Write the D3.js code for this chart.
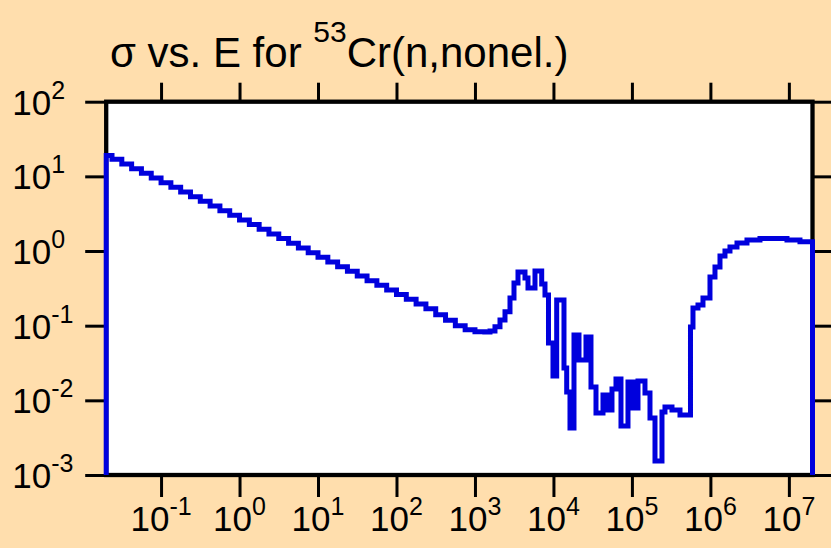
<!DOCTYPE html>
<html><head><meta charset="utf-8">
<script src="https://cdn.jsdelivr.net/npm/d3@7"></script>
<style>html,body{margin:0;padding:0;background:#FFDEAD;} svg{display:block;}</style>
</head><body>
<svg id="c" width="831" height="548"></svg>
<script>
// ---- data ----
const titleMain = "σ vs. E for ";
const titleSup = "53";
const titleRest = "Cr(n,nonel.)";
const xTickExponents = [-1, 0, 1, 2, 3, 4, 5, 6, 7];
const yTickExponents = [-3, -2, -1, 0, 1, 2];
const xDomain = [0.02, 2e7];
const yDomain = [1e-3, 1e2];
// bin left edges (eV) and cross sections (b), step histogram
const energy = [
  0.02, 0.02, 0.02371, 0.03162, 0.04217, 0.05623, 0.07499, 0.1, 0.1334, 0.1778, 0.2371,
  0.3162, 0.4217, 0.5623, 0.7499, 1, 1.334, 1.778, 2.371, 3.162, 4.217,
  5.623, 7.499, 10, 13.34, 17.78, 23.71, 31.62, 42.17, 56.23, 74.99,
  100, 133.4, 177.8, 237.1, 316.2, 421.7, 562.3, 749.9, 1000, 1334,
  1554, 1799, 2084, 2414, 2795, 3143, 3534, 4340, 4739, 5820,
  7085, 7803, 8647, 9867, 11000, 13625, 14754, 16250, 18275, 21165,
  25980, 30090, 34850, 42790, 49550, 55720, 62650, 72550, 89100, 103200,
  119500, 146700, 169900, 196800, 241600, 263800, 324000, 409800, 557500, 600000,
  694700, 804400, 987900, 1.144e6, 1.325e6, 1.534e6, 1.776e6, 2.182e6, 2.925e6, 4.283e6,
  9.459e6, 1.385e7, 2e7, 2e7
];
const sigma = [
  0.001, 19.0, 16.9, 14.65, 12.69, 10.99, 9.51, 8.24, 7.14, 6.18, 5.35,
  4.63, 4.01, 3.47, 3.01, 2.61, 2.26, 1.95, 1.69, 1.47, 1.27,
  1.10, 0.951, 0.824, 0.714, 0.618, 0.535, 0.463, 0.401, 0.347, 0.301,
  0.261, 0.226, 0.195, 0.169, 0.140, 0.118, 0.100, 0.088, 0.083, 0.082,
  0.0849, 0.097, 0.119, 0.154, 0.235, 0.373, 0.524, 0.435, 0.320, 0.541,
  0.362, 0.258, 0.0587, 0.0212, 0.221, 0.0271, 0.01295, 0.00427, 0.0751, 0.0347,
  0.0706, 0.0151, 0.00678, 0.0118, 0.00743, 0.0142, 0.0193, 0.00454, 0.0176, 0.0079,
  0.0182, 0.01256, 0.0058, 0.00154, 0.00699, 0.00815, 0.00743, 0.00637, 0.0961, 0.1727,
  0.1894, 0.235, 0.449, 0.611, 0.858, 1.0, 1.133, 1.281, 1.406, 1.472,
  1.406, 1.334, 1.334, 0.001
];

// ---- drawing ----
(function () {
const svg = d3.select("#c");
const W = 831, H = 548;
const pLeft = 106.2, pRight = 812.5, pTop = 101.7, pBottom = 475;
const bg = "#FFDEAD", lineColor = "#0000DD";
svg.append("rect").attr("width", W).attr("height", H).attr("fill", bg);

const x = d3.scaleLog().domain(xDomain).range([pLeft, pRight]);
const y = d3.scaleLog().domain(yDomain).range([pBottom, pTop]);

const font = "Liberation Sans, Arial, Helvetica, sans-serif";

// plot area
svg.append("rect").attr("x", pLeft).attr("y", pTop)
  .attr("width", pRight - pLeft).attr("height", pBottom - pTop)
  .attr("fill", "#fff");

// ticks via axes
const xTicks = xTickExponents.map(e => Math.pow(10, e));
const yTicks = yTickExponents.map(e => Math.pow(10, e));
function styleAxis(g) {
  g.select(".domain").remove();
  g.selectAll("text").remove();
  g.selectAll("line").attr("stroke", "#000").attr("stroke-width", 3);
}
svg.append("g").attr("transform", `translate(0,${pBottom})`)
  .call(d3.axisBottom(x).tickValues(xTicks).tickSize(22).tickSizeOuter(0)).call(styleAxis);
svg.append("g").attr("transform", `translate(0,${pTop})`)
  .call(d3.axisTop(x).tickValues(xTicks).tickSize(19).tickSizeOuter(0)).call(styleAxis);
svg.append("g").attr("transform", `translate(${pLeft},0)`)
  .call(d3.axisLeft(y).tickValues(yTicks).tickSize(21).tickSizeOuter(0)).call(styleAxis);
svg.append("g").attr("transform", `translate(${pRight},0)`)
  .call(d3.axisRight(y).tickValues(yTicks).tickSize(21).tickSizeOuter(0)).call(styleAxis);

// frame
svg.append("rect").attr("x", pLeft).attr("y", pTop)
  .attr("width", pRight - pLeft).attr("height", pBottom - pTop)
  .attr("fill", "none").attr("stroke", "#000").attr("stroke-width", 4.3);

// curve
const pts = energy.map((e, i) => [e, sigma[i]]);
const line = d3.line().x(d => x(d[0])).y(d => y(d[1])).curve(d3.curveStepAfter);
svg.append("path").attr("d", line(pts))
  .attr("fill", "none").attr("stroke", lineColor).attr("stroke-width", 5)
  .attr("stroke-linejoin", "miter").attr("stroke-linecap", "butt");

// tick labels
const baseSize = 35, supSize = 25;
xTickExponents.forEach(e => {
  const t = svg.append("text").attr("x", x(Math.pow(10, e))).attr("y", 531)
    .attr("text-anchor", "middle").attr("font-family", font).attr("font-size", baseSize).attr("fill", "#000");
  t.append("tspan").text("10");
  t.append("tspan").attr("dy", -16).attr("font-size", supSize).text(String(e));
});
yTickExponents.forEach(e => {
  const t = svg.append("text").attr("x", 12.2).attr("y", y(Math.pow(10, e)) + 13)
    .attr("text-anchor", "start").attr("font-family", font).attr("font-size", baseSize).attr("fill", "#000");
  t.append("tspan").text("10");
  t.append("tspan").attr("dy", -16).attr("font-size", supSize).text(String(e));
});

// title
const title = svg.append("text").attr("x", 110).attr("y", 67)
  .attr("font-family", font).attr("font-size", 42).attr("fill", "#000");
title.append("tspan").text(titleMain);
title.append("tspan").attr("dy", -25).attr("font-size", 30).text(titleSup);
title.append("tspan").attr("dy", 25).text(titleRest);
})();
</script>
</body></html>
